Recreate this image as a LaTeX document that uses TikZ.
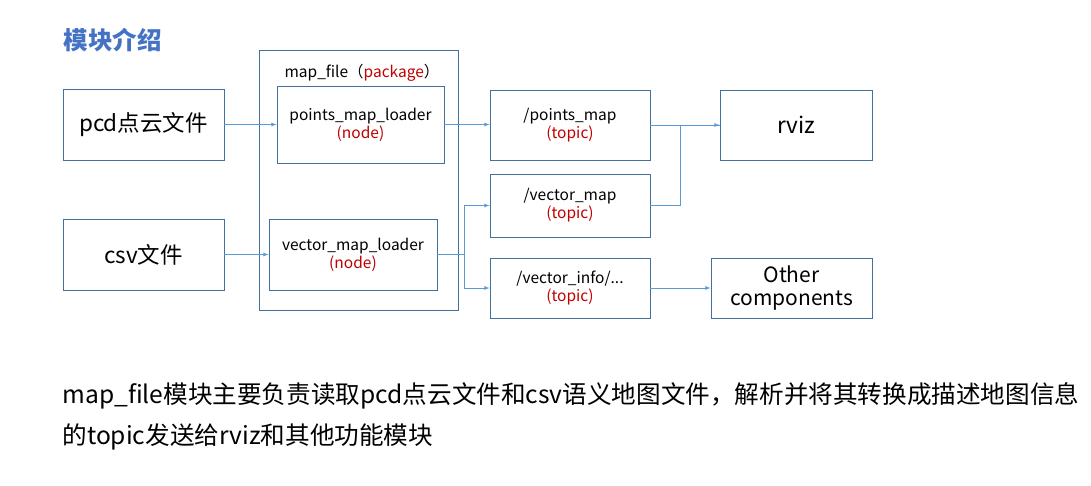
\documentclass[tikz,border=0pt]{standalone}
\usepackage{fontspec}
\setmainfont{Noto Sans CJK SC}
\usepackage{xcolor}
\usepackage{tikz}
\usetikzlibrary{arrows}

\definecolor{boxline}{HTML}{41719C}
\definecolor{arrline}{HTML}{5B9BD5}
\definecolor{tagred}{HTML}{C00000}
\definecolor{titleblue}{HTML}{4472C4}
\newcommand{\tagtxt}[1]{\textcolor{tagred}{(#1)}}

\begin{document}
\begin{tikzpicture}[x=1pt, y=-1pt,
    blk/.style={draw=boxline, line width=0.9pt, inner sep=0pt, align=center},
    bigtxt/.style={font=\fontsize{22.5}{26}\selectfont},
    smalltxt/.style={font=\fontsize{15.5}{19}\selectfont},
    flow/.style={draw=arrline, line width=0.8pt, -latex}]
      \useasboundingbox[fill=white] (0, 0) rectangle (1091, 486);
      \node[anchor=west, text=titleblue, font=\fontsize{24.5}{28}\selectfont\bfseries] (title) at (60, 40) {模块介绍};

      \node[blk, bigtxt, minimum width=161, minimum height=71] (pcd) at (143.5, 124.5) {pcd点云文件};
      \node[blk, bigtxt, minimum width=161, minimum height=71] (csv) at (143.5, 254.5) {csv文件};

      \node[blk, minimum width=199, minimum height=260] (pkg) at (358.5, 180) {};
      \node[smalltxt] (pkgname) at (362, 73) {map\_file（\textcolor{tagred}{package}）};
      \node[blk, smalltxt, minimum width=167, minimum height=77] (pml) at (360.5, 124.5) {points\_map\_loader\\[-1pt] \tagtxt{node}};
      \node[blk, smalltxt, minimum width=168, minimum height=71] (vml) at (353, 254.5) {vector\_map\_loader\\[-1pt] \tagtxt{node}};

      \node[blk, smalltxt, minimum width=160, minimum height=70] (pm) at (570, 125) {/points\_map\\[-1pt] \tagtxt{topic}};
      \node[blk, smalltxt, minimum width=160, minimum height=63] (vm) at (570, 205.5) {/vector\_map\\[-1pt] \tagtxt{topic}};
      \node[blk, smalltxt, minimum width=160, minimum height=60] (vi) at (570, 288) {/vector\_info/...\\[-1pt] \tagtxt{topic}};

      \node[blk, bigtxt, minimum width=152, minimum height=70] (rviz) at (796, 125) {rviz};
      \node[blk, bigtxt, minimum width=161, minimum height=60, font=\fontsize{21}{25}\selectfont] (other) at (791.5, 288) {Other\\[-2pt] components};

      \coordinate (split) at (464, 254.5);
      \coordinate (merge) at (680, 205.5);

      \draw[flow] (pcd) -- (pml);
      \draw[flow] (csv) -- (vml);
      \draw[flow] (pml.east) -- (pml.east -| pm.west);
      \draw[draw=arrline, line width=0.8pt] (vml.east) -- (split);
      \draw[flow] (split) |- (vm.west);
      \draw[flow] (split) |- (vi.west);
      \draw[flow] (pm) -- (rviz);
      \draw[draw=arrline, line width=0.8pt] (vm.east) -- (merge) |- (rviz.west);
      \draw[flow] (vi) -- (other);

      \node[anchor=west, font=\fontsize{24.6}{28}\selectfont] (desc1) at (59, 396) {map\_file模块主要负责读取pcd点云文件和csv语义地图文件，解析并将其转换成描述地图信息};
      \node[anchor=west, font=\fontsize{24.6}{28}\selectfont] (desc2) at (59, 437) {的topic发送给rviz和其他功能模块};
    \end{tikzpicture}
\end{document}
